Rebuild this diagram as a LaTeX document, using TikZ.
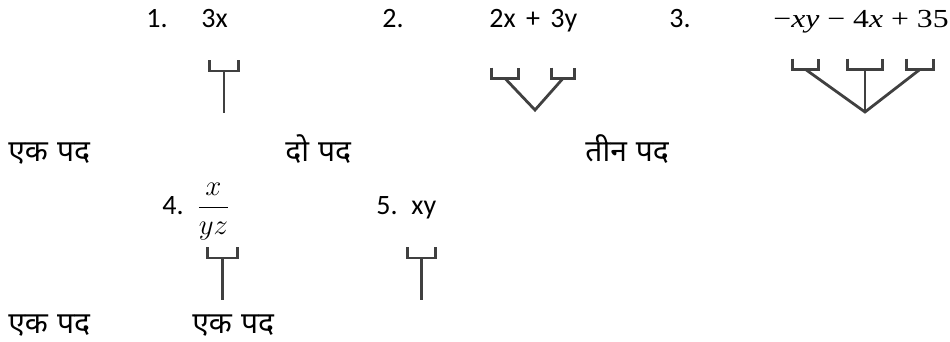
\documentclass[tikz,border=0pt]{standalone}
\usepackage{amsmath}
\usepackage{fontspec}
\usepackage{graphicx}
\setmainfont{Carlito}
\newfontfamily\hindi[Script=Devanagari]{Noto Sans}
\newfontfamily\tnr{Liberation Serif}
\usetikzlibrary{positioning}
\definecolor{twig}{HTML}{404040}
\tikzset{
  lbl/.style ={anchor=base west, inner sep=0pt, font=\fontsize{14}{16}\selectfont},
  pad/.style ={lbl, font=\hindi\fontsize{15}{18}\selectfont},
  % bracket holding one term: drawn as an open cup
  brk/.style ={inner sep=0pt, minimum height=5pt},
  cup/.style ={draw=twig, line width=1.2pt},
  stem/.style={draw=twig, line width=1.4pt},
}
\begin{document}
\begin{tikzpicture}[x=0.5pt, y=-0.5pt]
  \useasboundingbox (0,0) rectangle (950,342);
  % first row of expressions
  \node[lbl] (n1) at (146,28) {1.};
  \node[lbl] (e1) at (201,28) {3x};
  \node[lbl] (n2) at (382,28) {2.};
  \node[lbl] (e2) at (489,28) {2x\hspace{0.37em}+\hspace{0.37em}3y};
  \node[lbl] (n3) at (669,28) {3.};
  \node[lbl] (e3) at (773,28) {\tnr\fontsize{13}{15}\selectfont
      \scalebox{1.22}[1]{−\textit{xy} − 4\textit{x} + 35}};
  % brackets and stems
  \node[brk, minimum width=14pt] (b1) at (224,65.5) {};
  \coordinate (r1) at (224,113);
  \draw[cup] (b1.north west) |- (b1.south) -| (b1.north east);
  \draw[stem] (b1.south) -- (r1);
  \node[brk, minimum width=13pt] (b2a) at (505,73) {};
  \node[brk, minimum width=11pt] (b2b) at (563,73) {};
  \coordinate (r2) at (535,110);
  \draw[cup] (b2a.north west) |- (b2a.south) -| (b2a.north east);
  \draw[cup] (b2b.north west) |- (b2b.south) -| (b2b.north east);
  \draw[stem] (b2a.south) -- (r2) -- (b2b.south);
  \node[brk, minimum width=12.5pt] (b3a) at (805.5,64) {};
  \node[brk, minimum width=17pt]   (b3b) at (865,64) {};
  \node[brk, minimum width=13pt]   (b3c) at (920,64) {};
  \coordinate (r3) at (865,112);
  \foreach \b in {b3a,b3b,b3c}
    \draw[cup] (\b.north west) |- (\b.south) -| (\b.north east);
  \draw[stem] (b3a.south) -- (r3) -- (b3c.south);
  \draw[stem] (b3b.south) -- (r3);
  % term counts
  \node[pad] (p1) at (8,162)   {एक\hspace{0.3em}पद};
  \node[pad] (p2) at (285,162) {दो\hspace{0.3em}पद};
  \node[pad] (p3) at (585,162) {तीन\hspace{0.3em}पद};
  % second row
  \node[lbl] (n4) at (162,215) {4.};
  \node[lbl] (e4) at (196,215) {$\dfrac{x}{yz}$};
  \node[lbl] (n5) at (376,215) {5.};
  \node[lbl] (e5) at (411,215) {xy};
  \node[brk, minimum width=14.5pt] (b4) at (222.5,252.5) {};
  \coordinate (r4) at (222.5,300);
  \draw[cup] (b4.north west) |- (b4.south) -| (b4.north east);
  \draw[stem] (b4.south) -- (r4);
  \node[brk, minimum width=13.5pt] (b5) at (421.5,252.5) {};
  \coordinate (r5) at (421.5,300);
  \draw[cup] (b5.north west) |- (b5.south) -| (b5.north east);
  \draw[stem] (b5.south) -- (r5);
  \node[pad] (p4) at (8,334)   {एक\hspace{0.3em}पद};
  \node[pad] (p5) at (192,334) {एक\hspace{0.3em}पद};
\end{tikzpicture}
\end{document}
